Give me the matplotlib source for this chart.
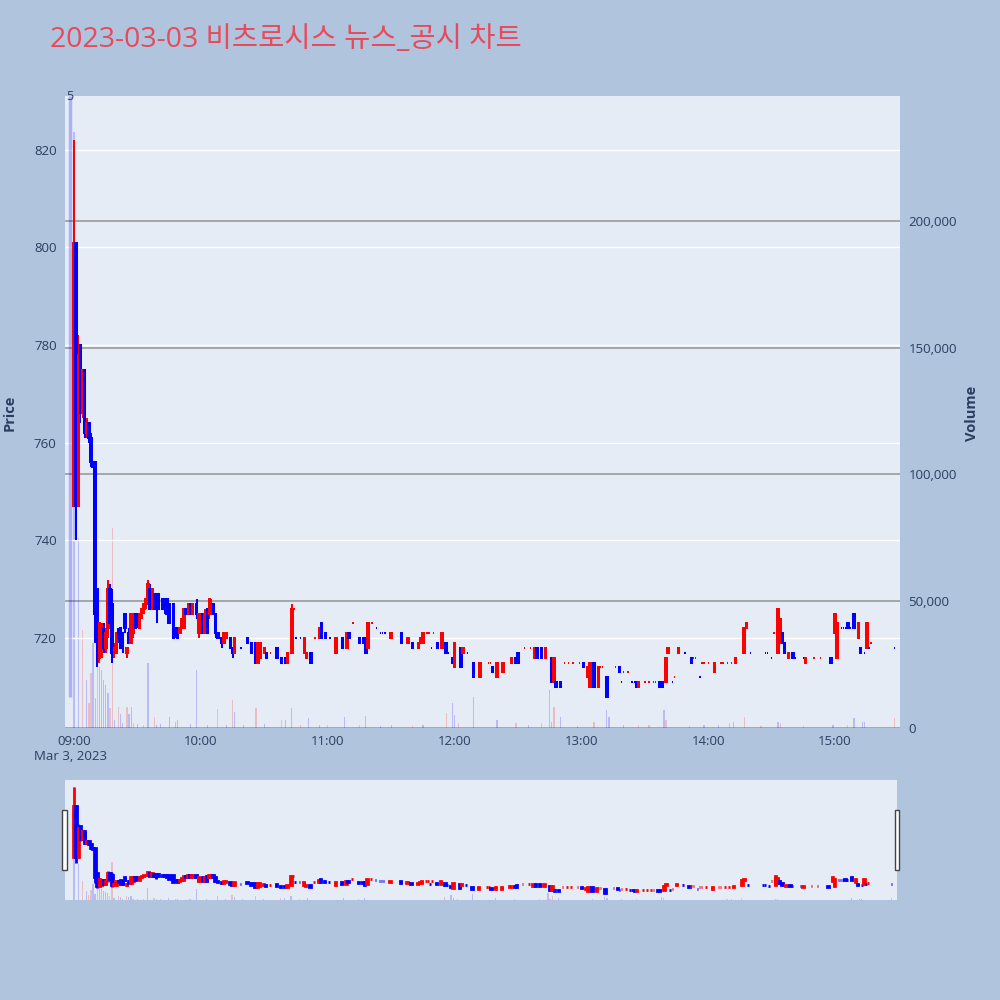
import numpy as np
import matplotlib
matplotlib.use("Agg")
import matplotlib.pyplot as plt
from matplotlib.patches import Rectangle
from matplotlib.ticker import FuncFormatter, FixedLocator

# minutes after 09:00, one candle per traded minute
minute = [0, 1, 2, 3, 4, 5, 6, 7, 8, 9, 10, 11, 12, 13, 14, 15, 16, 17, 18, 19,
          20, 21, 22, 23, 24, 25, 26, 27, 28, 29, 30, 31, 32, 33, 34, 35, 36, 37, 38, 39,
          40, 42, 43, 44, 45, 47, 48, 49, 50, 51, 52, 53, 54, 55, 56, 58, 59, 60, 61, 62,
          63, 64, 65, 66, 67, 68, 70, 71, 72, 74, 75, 76, 79, 82, 84, 86, 87, 88, 90, 91,
          93, 96, 98, 100, 101, 103, 104, 105, 107, 109, 110, 112, 114, 116, 117, 119, 121, 124, 127, 129,
          130, 132, 135, 137, 138, 139, 141, 143, 145, 146, 147, 150, 155, 158, 160, 163, 164, 165, 167, 168,
          169, 170, 172, 174, 176, 177, 179, 180, 183, 184, 186, 189, 192, 196, 197, 198, 200, 203, 207, 209,
          210, 213, 216, 218, 219, 221, 223, 226, 227, 228, 230, 232, 234, 236, 239, 241, 243, 244, 246, 248,
          249, 250, 252, 256, 258, 259, 260, 262, 264, 265, 266, 267, 270, 272, 274, 275, 277, 278, 280, 281,
          283, 284, 286, 289, 292, 293, 294, 296, 297, 298, 300, 303, 306, 307, 309, 311, 313, 317, 318, 320,
          327, 328, 330, 331, 333, 334, 335, 336, 338, 340, 341, 345, 346, 350, 353, 358, 360, 361, 363, 364,
          365, 366, 367, 369, 371, 372, 374, 375, 376, 377, 388]
open_ = [747, 801, 747, 780, 766, 775, 762, 764, 761, 756, 756, 730, 716, 717, 722, 718, 722, 730, 727, 717,
         717, 721, 722, 721, 725, 717, 721, 719, 721, 725, 725, 722, 725, 726, 727, 727, 730, 726, 729, 729,
         729, 728, 728, 728, 727, 727, 722, 722, 721, 722, 722, 726, 725, 727, 725, 727, 721, 722, 725, 721,
         726, 725, 725, 727, 725, 721, 720, 719, 720, 720, 718, 717, 718, 720, 719, 719, 715, 716, 717, 717,
         717, 718, 716, 716, 715, 717, 726, 720, 720, 717, 716, 717, 720, 720, 723, 721, 720, 717, 720, 718,
         721, 723, 720, 720, 720, 718, 723, 722, 721, 721, 721, 720, 721, 719, 719, 718, 719, 719, 721, 721,
         718, 721, 719, 718, 719, 717, 716, 714, 718, 717, 717, 715, 712, 715, 715, 714, 712, 713, 715, 716,
         717, 718, 718, 716, 718, 718, 716, 716, 711, 711, 711, 715, 715, 715, 715, 715, 712, 710, 715, 710,
         714, 714, 712, 714, 714, 711, 713, 713, 711, 711, 711, 710, 711, 711, 711, 711, 711, 711, 711, 717,
         711, 712, 717, 717, 716, 716, 716, 712, 715, 715, 715, 713, 715, 715, 715, 715, 715, 717, 722, 717,
         717, 717, 716, 721, 717, 719, 721, 719, 716, 717, 716, 716, 715, 716, 716, 716, 721, 716, 722, 722,
         722, 723, 722, 725, 720, 718, 717, 718, 718, 719, 718]
high = [822, 801, 782, 780, 775, 775, 765, 764, 762, 756, 756, 730, 723, 723, 723, 722, 732, 731, 730, 719,
        721, 722, 722, 721, 725, 718, 722, 725, 725, 725, 725, 725, 726, 727, 728, 732, 731, 730, 729, 729,
        729, 728, 728, 728, 727, 727, 722, 722, 722, 724, 726, 726, 727, 727, 727, 728, 725, 725, 725, 726,
        726, 728, 728, 727, 725, 721, 720, 721, 721, 720, 718, 720, 718, 720, 719, 719, 719, 719, 718, 717,
        717, 718, 716, 716, 717, 727, 726, 720, 720, 720, 717, 717, 720, 722, 723, 721, 720, 720, 720, 721,
        721, 723, 720, 720, 720, 723, 723, 722, 721, 721, 721, 721, 721, 720, 719, 719, 720, 721, 721, 721,
        718, 721, 719, 721, 719, 717, 716, 719, 718, 718, 717, 715, 715, 715, 715, 714, 715, 715, 716, 716,
        717, 718, 718, 718, 718, 718, 718, 716, 716, 711, 711, 715, 715, 715, 715, 715, 714, 715, 715, 714,
        714, 714, 712, 714, 714, 711, 713, 713, 711, 711, 711, 711, 711, 711, 711, 711, 711, 711, 716, 718,
        711, 712, 718, 717, 716, 716, 716, 712, 715, 715, 715, 715, 715, 715, 715, 715, 716, 722, 723, 717,
        717, 717, 716, 721, 726, 724, 721, 719, 717, 717, 716, 716, 716, 716, 716, 716, 725, 723, 722, 722,
        722, 723, 722, 725, 723, 718, 717, 723, 718, 719, 718]
low = [747, 740, 747, 764, 765, 761, 761, 760, 755, 755, 719, 714, 715, 716, 717, 717, 720, 722, 715, 716,
       717, 719, 718, 717, 721, 716, 719, 719, 720, 722, 722, 722, 724, 725, 726, 727, 726, 726, 726, 723,
       726, 726, 725, 725, 723, 720, 720, 720, 721, 722, 722, 725, 725, 725, 725, 724, 720, 721, 721, 721,
       721, 724, 725, 725, 720, 720, 718, 719, 720, 718, 716, 717, 718, 719, 717, 715, 715, 716, 717, 716,
       717, 716, 715, 715, 715, 717, 726, 720, 720, 717, 716, 715, 720, 720, 720, 720, 720, 717, 718, 718,
       720, 723, 719, 719, 717, 718, 723, 722, 721, 721, 721, 720, 719, 719, 718, 718, 719, 719, 721, 721,
       718, 721, 718, 718, 717, 717, 715, 714, 714, 717, 717, 712, 712, 715, 715, 713, 712, 713, 715, 715,
       715, 718, 718, 716, 716, 716, 716, 711, 711, 710, 710, 715, 715, 715, 715, 714, 712, 710, 710, 710,
       714, 714, 708, 714, 713, 711, 713, 713, 711, 711, 710, 710, 711, 711, 711, 711, 710, 710, 711, 717,
       711, 712, 717, 717, 715, 716, 716, 712, 715, 715, 715, 713, 715, 715, 715, 715, 715, 717, 722, 717,
       717, 717, 716, 721, 717, 719, 719, 717, 716, 716, 716, 716, 715, 716, 716, 715, 721, 716, 722, 722,
       722, 722, 722, 722, 720, 717, 717, 718, 718, 719, 718]
close = [801, 747, 778, 766, 775, 762, 764, 761, 756, 755, 725, 716, 723, 722, 718, 721, 730, 723, 717, 718,
         721, 720, 718, 718, 722, 718, 719, 725, 725, 722, 723, 725, 726, 727, 728, 731, 726, 730, 726, 726,
         726, 726, 726, 725, 723, 720, 721, 720, 722, 724, 726, 725, 727, 725, 727, 725, 725, 724, 721, 725,
         721, 728, 727, 725, 721, 720, 719, 721, 721, 718, 717, 720, 718, 719, 717, 715, 719, 719, 718, 716,
         717, 716, 715, 715, 717, 726, 726, 720, 720, 720, 717, 715, 720, 722, 720, 720, 720, 720, 718, 721,
         720, 723, 719, 719, 717, 723, 723, 722, 721, 721, 721, 721, 719, 720, 718, 719, 720, 721, 721, 721,
         718, 721, 718, 721, 717, 717, 715, 719, 714, 718, 717, 712, 715, 715, 715, 713, 715, 715, 716, 715,
         715, 718, 718, 718, 716, 716, 718, 711, 716, 710, 710, 715, 715, 715, 715, 714, 714, 715, 710, 714,
         714, 714, 708, 714, 713, 711, 713, 713, 711, 711, 710, 711, 711, 711, 711, 711, 710, 710, 716, 718,
         711, 712, 718, 717, 715, 716, 716, 712, 715, 715, 715, 715, 715, 715, 715, 715, 716, 722, 723, 717,
         717, 717, 716, 721, 726, 724, 719, 717, 717, 716, 716, 716, 716, 716, 716, 715, 725, 723, 722, 722,
         722, 722, 722, 722, 723, 717, 717, 723, 718, 719, 718]

# traded volume bars (minute, shares, side)
vol_minute = [0, 2, 4, 6, 7, 8, 9, 10, 11, 12, 13, 14, 15, 16, 17, 18, 19, 21, 22, 23,
              25, 26, 27, 28, 30, 33, 35, 38, 39, 41, 45, 48, 49, 55, 58, 63, 68, 72, 75, 76,
              80, 86, 90, 98, 100, 103, 107, 111, 116, 120, 128, 135, 138, 145, 150, 160, 165, 176, 179, 180,
              182, 189, 200, 209, 215, 221, 225, 226, 227, 230, 238, 246, 252, 253, 260, 267, 272, 279, 280, 291,
              298, 305, 310, 312, 317, 325, 333, 334, 345, 359, 366, 369, 373, 374, 388]
vol_value = [235000, 75000, 38700, 19000, 10000, 21700, 33500, 12000, 29600, 24000, 22900, 19000, 17000, 13800, 7900, 79000, 3200, 8300, 5500, 2000,
             8300, 5500, 8300, 2000, 1500, 1200, 25600, 4300, 1200, 1500, 4300, 2400, 3000, 1500, 22900, 1200, 7500, 1200, 11000, 6400,
             1200, 7800, 1500, 3200, 3200, 7800, 1200, 3800, 1000, 1000, 4500, 1200, 4700, 800, 1000, 800, 1000, 5800, 9700, 5100,
             2100, 12400, 3200, 1800, 1000, 1800, 15000, 2500, 8400, 4500, 900, 2500, 7100, 4500, 1200, 1200, 1000, 7100, 3200, 900,
             1000, 1000, 1800, 2500, 4500, 800, 2500, 1800, 800, 1000, 1000, 3800, 2500, 2500, 3800]
vol_side = list("bbrbrrbbrbbbbbrrbrbbr"
                "bbrbrbrbbbbbbbbrbrbb"
                "rbrbbrbbrbrbbbrbrbbr"
                "bbrbrbbrbbrbbbrrbrrb"
                "brbrrbrrbrbbbrb")

news_minute = -2
news_count = "5"

title = "2023-03-03 비츠로시스 뉴스_공시 차트"
price_ticks = [720, 740, 760, 780, 800, 820]
vol_ticks = [0, 50000, 100000, 150000, 200000]
hour_ticks = [0, 60, 120, 180, 240, 300, 360]

UP = "#ff0000"
DOWN = "#0000ff"
PLOT_BG = "#e5ecf6"
PAGE_BG = "#b0c4de"
FONT_C = "#2a3f5f"


def candle_colors():
    # plotly rule: flat candles keep direction unless close moved vs previous close
    cols = []
    inc = True
    prev = None
    for o, c in zip(open_, close):
        if c == o:
            if prev is not None and c != prev:
                inc = c > prev
        else:
            inc = c > o
        prev = c
        cols.append(UP if inc else DOWN)
    return cols


def draw(ax, axv, lw):
    cols = candle_colors()
    t = np.array(minute)
    o = np.array(open_, dtype=float)
    c = np.array(close, dtype=float)
    ax.vlines(t, low, high, colors=cols, linewidth=lw, zorder=3)
    ax.bar(t, np.abs(c - o), width=0.7, bottom=np.minimum(o, c),
           color=cols, edgecolor=cols, linewidth=lw, zorder=3)
    vcols = [(1, 0, 0, 0.2) if s == "r" else (0, 0, 1, 0.2) for s in vol_side]
    axv.bar(vol_minute, vol_value, width=0.6, color=vcols, linewidth=0, zorder=2)


fig = plt.figure(figsize=(10, 10), dpi=100, facecolor=PAGE_BG)
plt.rcParams["font.family"] = ["Open Sans", "DejaVu Sans"]

axv = fig.add_axes([0.065, 0.272, 0.835, 0.632])
ax = axv.twinx()
# price axis on the left, volume on the right, volume bars behind candles
ax.yaxis.tick_left()
axv.yaxis.tick_right()
ax.set_zorder(axv.get_zorder() + 1)
ax.patch.set_visible(False)
axv.set_facecolor(PLOT_BG)

draw(ax, axv, 1.45)
axv.set_ylim(0, 249300)
ax.set_ylim(701.6, 831.0)
ax.set_xlim(-4.3, 390.7)
ax.vlines(news_minute, 707.9, 831.0, color=(0, 0, 1, 0.25), linewidth=2.5, zorder=2)
ax.text(news_minute, 831.0, news_count, ha="center", va="center", fontsize=9, color=FONT_C)

ax.yaxis.set_major_locator(FixedLocator(price_ticks))
axv.yaxis.set_major_locator(FixedLocator(vol_ticks))
axv.yaxis.set_major_formatter(FuncFormatter(lambda v, p: f"{v:,.0f}"))
axv.xaxis.set_major_locator(FixedLocator(hour_ticks))
axv.xaxis.set_major_formatter(FuncFormatter(lambda m, p: f"{9 + int(m) // 60:02d}:{int(m) % 60:02d}"))

ax.grid(axis="y", color="white", linewidth=1.0, zorder=0)
axv.grid(axis="y", color="#9a9a9a", linewidth=1.2, zorder=0)
axv.axhline(0, color="white", linewidth=2, zorder=1)
for a in (ax, axv):
    for s in a.spines.values():
        s.set_visible(False)
    a.tick_params(length=0, labelsize=9.5, labelcolor=FONT_C, pad=6)
axv.tick_params(axis="x", pad=5)

fig.text(0.070, 0.243, "Mar 3, 2023", ha="center", va="center", fontsize=9.5, color=FONT_C)
fig.text(0.010, 0.587, "Price", rotation=90, ha="center", va="center", fontsize=10.5,
         fontweight="bold", color=FONT_C)
fig.text(0.972, 0.587, "Volume", rotation=90, ha="center", va="center", fontsize=10.5,
         fontweight="bold", color=FONT_C)
fig.text(0.050, 0.960, title, ha="left", va="center", fontsize=20.5, color="#e8495b",
         family=["Open Sans", "Noto Sans CJK KR", "DejaVu Sans"])

# range slider
sv = fig.add_axes([0.065, 0.100, 0.832, 0.120])
sp = sv.twinx()
sp.set_zorder(sv.get_zorder() + 1)
sp.patch.set_visible(False)
sv.set_facecolor(PLOT_BG)
draw(sp, sv, 2.0)
sv.set_ylim(0, 249300)
sp.set_ylim(700.7, 829.2)
sp.set_xlim(-4.3, 390.7)
for a in (sv, sp):
    a.set_xticks([])
    a.set_yticks([])
    for s in a.spines.values():
        s.set_visible(False)

for x0 in (0.0623, 0.8946):
    fig.patches.append(Rectangle((x0, 0.130), 0.0044, 0.060, transform=fig.transFigure,
                                 facecolor="white", edgecolor="#444444", linewidth=1))

fig.savefig("out.png", dpi=100, facecolor=PAGE_BG)
